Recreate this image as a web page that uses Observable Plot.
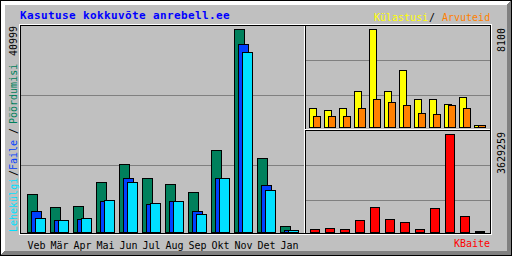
<!DOCTYPE html>
<html><head><meta charset="utf-8">
<script src="https://cdn.jsdelivr.net/npm/d3@7"></script>
<script src="https://cdn.jsdelivr.net/npm/@observablehq/plot@0.6"></script>
<style>
html,body{margin:0;padding:0;background:#c0c0c0;}
#chart{position:relative;width:512px;height:256px;overflow:hidden;}
#chart svg{position:absolute;left:0;top:0;}
</style></head><body><div id="chart"></div>
<script>
const months = ["Veb","Mär","Apr","Mai","Jun","Jul","Aug","Sep","Okt","Nov","Det","Jan"];
const hits   = [7473, 5049, 5251, 10098, 13532, 10906, 9493, 7877, 16360, 40999, 14744, 1010];
const files  = [4241, 2222, 2424, 6059, 10705, 5655, 6059, 4241, 10705, 37768, 9291, 330];
const pages  = [2626, 2222, 2626, 6261, 10098, 5857, 6059, 3635, 10906, 36153, 8281, 250];
const visits = [1488, 1405, 1488, 2893, 8100, 2893, 4711, 2232, 2314, 1901, 2397, 165];
const sites  = [909, 909, 827, 1570, 2314, 2066, 1818, 1157, 1074, 1818, 1570, 120];
const kbytes = [111100, 148100, 111100, 407400, 888800, 444400, 333300, 74100, 851800, 3629259, 555500, 30000];

const titleText = "Kasutuse kokkuvõte anrebell.ee";
const hitsLegend = ["Lehekülgi", "Faile", "Pöördumisi"];
const visitsLegend = ["Külastusi", "Arvuteid"];
const kbytesLegend = "KBaite";
const maxHitsLabel = "40999";
const maxVisitsLabel = "8100";
const maxKbytesLabel = "3629259";

const colGrey = "#c0c0c0", colDk = "#808080";
const colHits = "#00805c", colFiles = "#0040ff", colPages = "#00e0ff";
const colVisits = "#ffff00", colSites = "#ff8000", colKb = "#ff0000", colTitle = "#0000ff";

const data = months.map((m, i) => ({month: m, hits: hits[i], files: files[i], pages: pages[i],
  visits: visits[i], sites: sites[i], kbytes: kbytes[i]}));

const root = document.getElementById("chart");
const FONT = "DejaVu Sans Mono, monospace";

// background: frame, section lines, gridlines, texts
const bg = d3.create("svg").attr("width", 512).attr("height", 256).attr("shape-rendering", "crispEdges");
bg.append("rect").attr("width", 512).attr("height", 256).attr("fill", colGrey);
const hline = (x1, x2, y, c) => bg.append("rect").attr("x", x1).attr("y", y).attr("width", x2 - x1 + 1).attr("height", 1).attr("fill", c);
const vline = (x, y1, y2, c) => bg.append("rect").attr("x", x).attr("y", y1).attr("width", 1).attr("height", y2 - y1 + 1).attr("fill", c);
for (let i = 0; i < 5; i++) {
  hline(i, 511 - i, i, "white");
  vline(i, i, 255 - i, "white");
  hline(i, 511 - i, 255 - i, colDk);
  vline(511 - i, i, 255 - i, colDk);
}
hline(0, 511, 0, "black"); hline(0, 511, 255, "black");
vline(0, 0, 255, "black"); vline(511, 0, 255, "black");
// panel frame
hline(19, 491, 24, "white"); hline(19, 491, 234, "white");
vline(19, 24, 234, "white"); vline(491, 24, 234, "white");
hline(20, 490, 25, "black"); hline(20, 490, 233, "black");
vline(20, 25, 233, "black"); vline(490, 25, 233, "black");
// gridlines
hline(21, 303, 95, colDk); hline(21, 303, 165, colDk);
hline(306, 489, 60, colDk); hline(306, 489, 95, colDk);
hline(306, 489, 165, colDk); hline(306, 489, 200, colDk);
// section lines
vline(304, 26, 232, "white"); vline(305, 25, 233, "black");
hline(305, 489, 129, "white"); hline(305, 489, 130, "black");

const txt = (s, x, y, c, opts = {}) => {
  const t = bg.append("text").attr("x", x).attr("y", y).attr("fill", c)
    .attr("font-family", FONT).attr("font-size", opts.size || 10).text(s);
  if (opts.bold) t.attr("font-weight", "bold");
  if (opts.ls) t.attr("letter-spacing", opts.ls);
  return t;
};
const up = (s, x, y, c) => bg.append("text").attr("transform", `translate(${x},${y}) rotate(-90)`)
  .attr("fill", c).attr("font-family", FONT).attr("font-size", 10).text(s);

txt(titleText, 20, 19, colTitle, {size: 11, bold: true, ls: 0.38});
txt(visitsLegend[0], 374, 21, colVisits);
txt("/", 429, 21, "black");
txt(visitsLegend[1], 442, 21, colSites);
txt(kbytesLegend, 454, 247, colKb);
up(maxHitsLabel, 17, 56, "black");
up(hitsLegend[0], 17, 232, colPages);
up("/", 17, 176, "black");
up(hitsLegend[1], 17, 170, colFiles);
up("/", 17, 134, "black");
up(hitsLegend[2], 17, 124, colHits);
up(maxVisitsLabel, 505, 52, "black");
up(maxKbytesLabel, 505, 174, "black");
root.appendChild(bg.node());

const common = {width: 512, height: 256, margin: 0,
  style: {background: "transparent", fontFamily: FONT, fontSize: "10px", color: "black", overflow: "visible"}};
const barOpts = {stroke: "black", strokeWidth: 1, shapeRendering: "crispEdges"};

const p1 = Plot.plot({...common, marginBottom: 24,
  x: {type: "band", domain: months, range: [16.1, 309.43], padding: 0.5714, label: null},
  y: {domain: [0, 40999], range: [232, 29], axis: null},
  marks: [
    Plot.barY(data, {x: "month", y: "hits", fill: colHits, dx: -4, ...barOpts}),
    Plot.barY(data, {x: "month", y: "files", fill: colFiles, ...barOpts}),
    Plot.barY(data, {x: "month", y: "pages", fill: colPages, dx: 4, ...barOpts}),
    Plot.axisX({tickSize: 0, tickPadding: 9, label: null, fontSize: 10})
  ]});
root.appendChild(p1);

const p2 = Plot.plot({...common,
  x: {type: "band", domain: months, range: [301, 489], padding: 0.5333, axis: null},
  y: {domain: [0, 8100], range: [127, 29], axis: null},
  marks: [
    Plot.barY(data, {x: "month", y: "visits", fill: colVisits, ...barOpts}),
    Plot.barY(data, {x: "month", y: "sites", fill: colSites, dx: 4, ...barOpts})
  ]});
root.appendChild(p2);

const p3 = Plot.plot({...common,
  x: {type: "band", domain: months, range: [304, 490], padding: 0.4, axis: null},
  y: {domain: [0, 3629259], range: [232, 134], axis: null},
  marks: [
    Plot.barY(data, {x: "month", y: "kbytes", fill: colKb, ...barOpts})
  ]});
root.appendChild(p3);
</script></body></html>
